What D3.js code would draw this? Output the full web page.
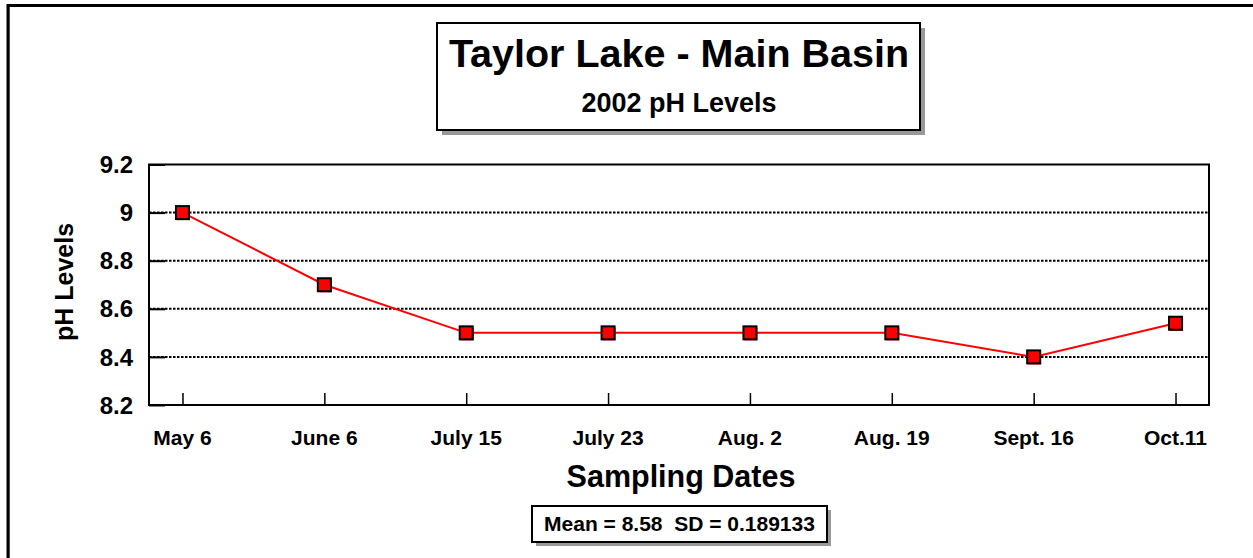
<!DOCTYPE html>
<html>
<head>
<meta charset="utf-8">
<script src="https://cdn.jsdelivr.net/npm/d3@7"></script>
<style>
  body { margin: 0; background: #fff; }
  text { font-family: "Liberation Sans", Arial, sans-serif; font-weight: bold; fill: #000; white-space: pre; }
</style>
</head>
<body>
<svg width="1253" height="558"></svg>
<script>
var dates = ["May 6", "June 6", "July 15", "July 23", "Aug. 2", "Aug. 19", "Sept. 16", "Oct.11"];
var phValues = [9.0, 8.7, 8.5, 8.5, 8.5, 8.5, 8.4, 8.54];
var yTicks = [8.2, 8.4, 8.6, 8.8, 9, 9.2];
var gridValues = [8.4, 8.6, 8.8, 9];
var statsText = "Mean = 8.58  SD = 0.189133";

var svg = d3.select("svg");
var plotL = 149, plotR = 1209, plotT = 164.5, plotB = 405;

var x = d3.scalePoint().domain(dates).range([plotL, plotR]).padding(0.236);
var y = d3.scaleLinear().domain([8.2, 9.2]).range([plotB, plotT]);

// outer frame (only top and left show)
svg.append("line").attr("x1", 9.5).attr("x2", 9.5).attr("y1", 7).attr("y2", 558)
  .attr("stroke", "#999").attr("stroke-width", 1);
svg.append("path").attr("d", "M8,558V5.5H1253")
  .attr("fill", "none").attr("stroke", "#000").attr("stroke-width", 3);

// title box
svg.append("rect").attr("x", 442).attr("y", 28).attr("width", 483).attr("height", 107).attr("fill", "#999");
svg.append("rect").attr("x", 437).attr("y", 23).attr("width", 483).attr("height", 107)
  .attr("fill", "#fff").attr("stroke", "#000").attr("stroke-width", 2);
svg.append("text").attr("x", 679).attr("y", 66.5).attr("text-anchor", "middle")
  .style("font-size", "39.5px").text("Taylor Lake - Main Basin");
svg.append("text").attr("x", 679).attr("y", 112).attr("text-anchor", "middle")
  .style("font-size", "27px").text("2002 pH Levels");

// gridlines
svg.append("g").selectAll("line").data(gridValues).enter().append("line")
  .attr("x1", plotL).attr("x2", plotR)
  .attr("y1", function(d){ return y(d); }).attr("y2", function(d){ return y(d); })
  .attr("stroke", "#000").attr("stroke-width", 2).attr("stroke-dasharray", "2.5,1.5");

// axes with inside ticks
var yAxis = svg.append("g").attr("transform", "translate(" + plotL + ",0)")
  .call(d3.axisRight(y).tickValues(yTicks).tickSize(16).tickFormat(""));
yAxis.select(".domain").remove();
yAxis.selectAll("line").attr("stroke-width", 2);

var xAxis = svg.append("g").attr("transform", "translate(0," + plotB + ")")
  .call(d3.axisTop(x).tickSize(12).tickFormat(""));
xAxis.select(".domain").remove();
xAxis.selectAll("line").attr("stroke-width", 1.5);

// plot frame
svg.append("rect").attr("x", plotL).attr("y", plotT).attr("width", plotR - plotL).attr("height", plotB - plotT)
  .attr("fill", "none").attr("stroke", "#000").attr("stroke-width", 2);

// tick labels
svg.append("g").selectAll("text").data(yTicks).enter().append("text")
  .attr("x", 133).attr("y", function(d){ return y(d); }).attr("dy", "0.36em")
  .attr("text-anchor", "end").style("font-size", "24px")
  .text(function(d){ return d3.format("")(d); });

svg.append("g").selectAll("text").data(dates).enter().append("text")
  .attr("x", function(d){ return x(d); }).attr("y", 445)
  .attr("text-anchor", "middle").style("font-size", "21px")
  .text(function(d){ return d; });

// axis titles
svg.append("text").attr("transform", "translate(73,282) rotate(-90)")
  .attr("text-anchor", "middle").style("font-size", "25px").text("pH Levels");
svg.append("text").attr("x", 681).attr("y", 487).attr("text-anchor", "middle")
  .style("font-size", "30.5px").text("Sampling Dates");

// series
var pts = dates.map(function(d, i){ return { date: d, v: phValues[i] }; });
var line = d3.line().x(function(d){ return x(d.date); }).y(function(d){ return y(d.v); });
svg.append("path").datum(pts).attr("d", line)
  .attr("fill", "none").attr("stroke", "#ff0000").attr("stroke-width", 2);

var m = svg.append("g").selectAll("g").data(pts).enter().append("g")
  .attr("transform", function(d){ return "translate(" + x(d.date) + "," + y(d.v) + ")"; });
m.append("rect").attr("x", -5.5).attr("y", -5.5).attr("width", 13).attr("height", 13).attr("fill", "#ff0000");
m.append("rect").attr("x", -6.5).attr("y", -6.5).attr("width", 13).attr("height", 13)
  .attr("fill", "#ff0000").attr("stroke", "#000").attr("stroke-width", 2);

// stats box
svg.append("rect").attr("x", 536).attr("y", 510).attr("width", 295).attr("height", 36).attr("fill", "#999");
svg.append("rect").attr("x", 532).attr("y", 506).attr("width", 295).attr("height", 36)
  .attr("fill", "#fff").attr("stroke", "#000").attr("stroke-width", 2);
svg.append("text").attr("x", 679.5).attr("y", 531).attr("text-anchor", "middle")
  .style("font-size", "21px").text(statsText);
</script>
</body>
</html>
